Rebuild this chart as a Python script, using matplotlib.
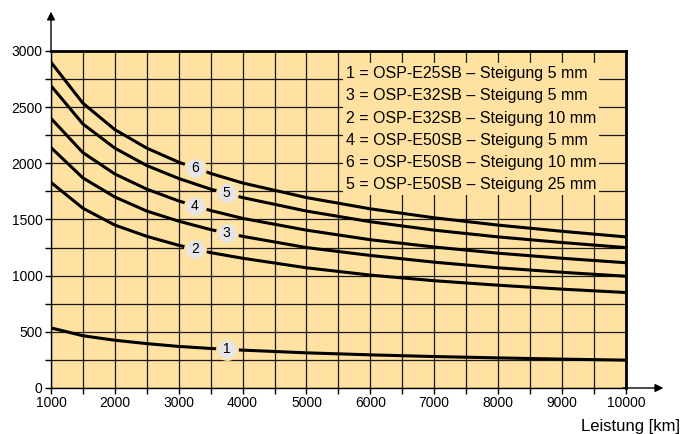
import numpy as np
import matplotlib.pyplot as plt
from matplotlib.ticker import MultipleLocator

plt.rcParams['font.family'] = ['Liberation Sans', 'DejaVu Sans']

# Leistung [km]
km = [1000, 1500, 2000, 2500, 3000, 3500, 4000, 5000, 6000, 7000, 8000, 9000, 10000]

curve1 = [535, 465, 425, 395, 370, 352, 337, 313, 295, 280, 268, 257, 248]
curve2 = [1830, 1600, 1450, 1350, 1270, 1205, 1155, 1070, 1005, 955, 915, 880, 850]
curve3 = [2140, 1870, 1700, 1575, 1485, 1410, 1350, 1250, 1180, 1120, 1070, 1030, 995]
curve4 = [2400, 2095, 1905, 1770, 1665, 1580, 1510, 1405, 1320, 1255, 1200, 1155, 1115]
curve5 = [2690, 2350, 2135, 1980, 1865, 1770, 1695, 1575, 1480, 1405, 1345, 1295, 1250]
curve6 = [2900, 2535, 2300, 2135, 2010, 1910, 1825, 1695, 1595, 1515, 1450, 1395, 1345]

curves = {'1': curve1, '2': curve2, '3': curve3, '4': curve4, '5': curve5, '6': curve6}
label_x = {'1': 3750, '2': 3250, '3': 3750, '4': 3250, '5': 3750, '6': 3250}

legend_lines = ["1 = OSP-E25SB \u2013 Steigung 5 mm",
                "3 = OSP-E32SB \u2013 Steigung 5 mm",
                "2 = OSP-E32SB \u2013 Steigung 10 mm",
                "4 = OSP-E50SB \u2013 Steigung 5 mm",
                "6 = OSP-E50SB \u2013 Steigung 10 mm",
                "5 = OSP-E50SB \u2013 Steigung 25 mm"]

bg = '#ffe2a1'

fig = plt.figure(figsize=(6.81, 4.34), dpi=100)
ax = fig.add_axes([0.0749, 0.106, 0.919 - 0.0749, 0.8825 - 0.106])
ax.set_facecolor(bg)
ax.set_xlim(1000, 10000)
ax.set_ylim(0, 3000)

ax.set_xticks(np.arange(1000, 10001, 500))
ax.set_xticklabels([str(v) if v % 1000 == 0 else '' for v in range(1000, 10001, 500)])
ax.set_yticks(np.arange(0, 3001, 250))
ax.set_yticklabels([str(v) if v % 500 == 0 else '' for v in range(0, 3001, 250)])
ax.tick_params(direction='out', length=4, width=1, labelsize=10, color='black', pad=2)
ax.grid(True, color='#1a1a1a', linewidth=0.9)
ax.set_axisbelow(True)

for s in ['top', 'right']:
    ax.spines[s].set_linewidth(2)
for s in ['left', 'bottom']:
    ax.spines[s].set_linewidth(1)

for k, ys in curves.items():
    ax.plot(km, ys, color='black', linewidth=2.2, zorder=3)
    xl = label_x[k]
    yl = np.interp(xl, km, ys)
    ax.plot(xl, yl, 'o', markersize=15, markerfacecolor='#e6e6e6',
            markeredgecolor=bg, markeredgewidth=1.5, zorder=4)
    ax.text(xl, yl, k, ha='center', va='center', fontsize=10, zorder=5)

# legend box
ax.text(0.513, 0.955, "\n".join(legend_lines), transform=ax.transAxes,
        ha='left', va='top', fontsize=11.5,
        linespacing=1.6, zorder=6,
        bbox=dict(facecolor=bg, edgecolor='none', pad=2))

# arrows on axes
ax.annotate('', xy=(0, 1.125), xytext=(0, 0.99), xycoords='axes fraction',
            arrowprops=dict(arrowstyle='-|>', color='black', lw=1, mutation_scale=12),
            annotation_clip=False)
ax.annotate('', xy=(1.07, 0), xytext=(0.99, 0), xycoords='axes fraction',
            arrowprops=dict(arrowstyle='-|>', color='black', lw=1, mutation_scale=12),
            annotation_clip=False)

fig.text(0.999, 0.006, "Leistung [km]", ha='right', va='baseline', fontsize=12)

fig.savefig('out.png', dpi=100)
